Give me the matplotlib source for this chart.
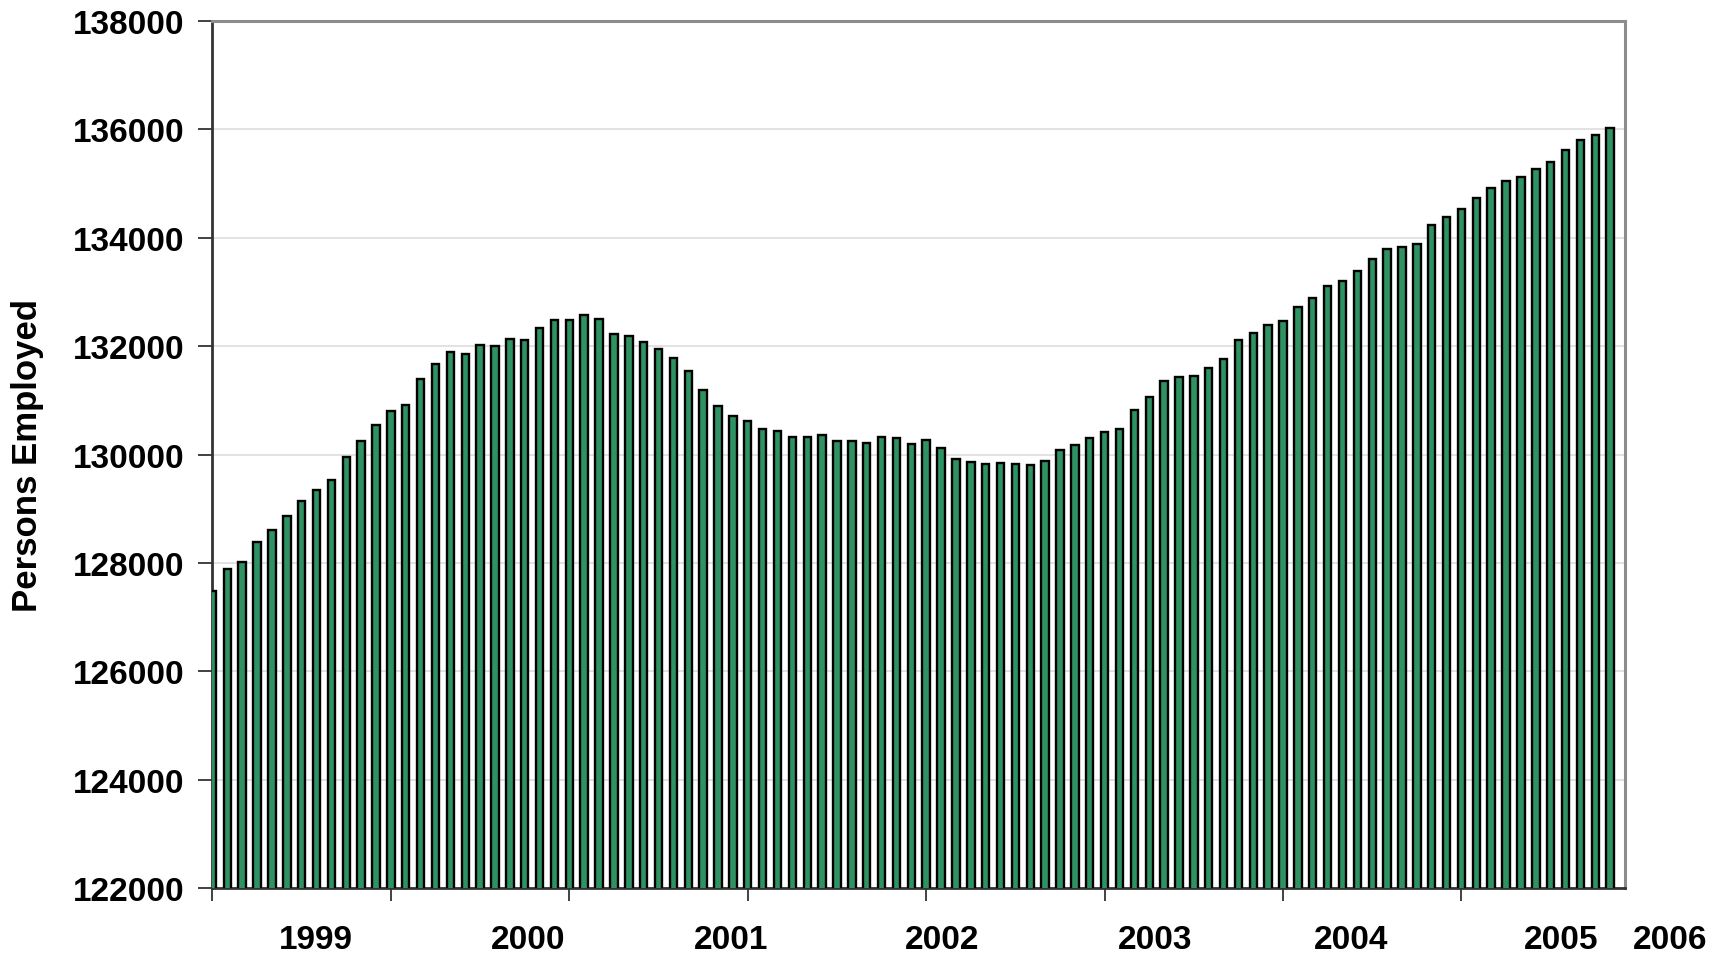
import numpy as np
import matplotlib.pyplot as plt

# Monthly persons employed (thousands)
employed = [
    127490, 127880, 128010, 128390, 128600, 128870, 129150, 129340, 129530, 129960,
    130250, 130540, 130800, 130910, 131390, 131670, 131890, 131860, 132030, 132010,
    132140, 132120, 132340, 132490, 132480, 132570, 132510, 132220, 132190, 132070,
    131940, 131790, 131540, 131200, 130890, 130710, 130610, 130480, 130440, 130330,
    130330, 130360, 130250, 130250, 130210, 130320, 130310, 130190, 130260, 130120,
    129920, 129860, 129830, 129840, 129820, 129800, 129880, 130090, 130180, 130300,
    130420, 130470, 130830, 131070, 131350, 131430, 131450, 131590, 131760, 132110,
    132240, 132390, 132470, 132730, 132880, 133110, 133210, 133380, 133610, 133790,
    133830, 133880, 134240, 134380, 134530, 134730, 134910, 135040, 135120, 135270,
    135390, 135620, 135810, 135900, 136030,
]
year_labels = ['1999', '2000', '2001', '2002', '2003', '2004', '2005', '2006']
year_label_pos = [6.96, 21.2, 34.9, 49.1, 63.4, 76.6, 90.7, 98.0]
y_ticks = list(range(122000, 138001, 2000))

plt.rcParams['font.family'] = ['Liberation Sans', 'DejaVu Sans']
plt.rcParams['font.weight'] = 'bold'

fig = plt.figure(figsize=(17.26, 9.54), dpi=100)
ax = fig.add_axes([0.1231, 0.0681, 0.8184, 0.9088])

x = np.arange(len(employed))
ax.bar(x, employed, width=0.5, color='#2e9262', edgecolor='black',
       linewidth=1.7, zorder=3)

ax.set_yticks(y_ticks)
ax.set_yticklabels([str(v) for v in y_ticks], fontsize=24, fontweight='bold')
ax.grid(axis='y', color='#dddddd', linewidth=1.2, zorder=0)

# year ticks every 12 months, unlabeled
ax.set_xticks(np.arange(0, 85, 12))
ax.set_xticklabels([])
ax.set_xlim(0, 95)
ax.set_ylim(122000, 138000)

# year labels sit between the ticks (the last one past the plot edge)
for pos, lab in zip(year_label_pos, year_labels):
    ax.text(pos, -0.0692, lab, transform=ax.get_xaxis_transform(),
            ha='center', va='baseline', fontsize=24, fontweight='bold',
            clip_on=False)

ax.tick_params(axis='x', direction='out', length=9, width=1.3, color='#333333')
ax.tick_params(axis='y', direction='out', length=10, width=1.3,
               color='#333333', pad=10)

ax.set_ylabel('Persons Employed', fontsize=25, fontweight='bold')
ax.yaxis.set_label_coords(-0.119, 0.5)

for side in ['left', 'bottom']:
    ax.spines[side].set_color('#333333')
    ax.spines[side].set_linewidth(2)
for side in ['top', 'right']:
    ax.spines[side].set_color('#8c8c8c')
    ax.spines[side].set_linewidth(2.2)

fig.savefig('out.png', dpi=100)
